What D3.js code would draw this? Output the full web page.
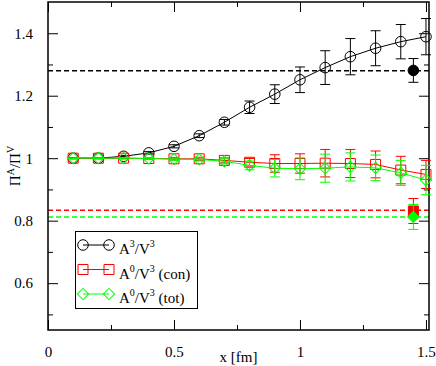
<!DOCTYPE html>
<html>
<head>
<meta charset="utf-8">
<script src="https://cdn.jsdelivr.net/npm/d3@7"></script>
<style>
  body { margin: 0; background: #fff; }
</style>
</head>
<body>
<div id="chart"></div>
<script>
// data
const xs = [0.1, 0.2, 0.3, 0.4, 0.5, 0.6, 0.7, 0.8, 0.9, 1.0, 1.1, 1.2, 1.3, 1.4, 1.5];
const a3 = [1.000, 1.000, 1.006, 1.017, 1.038, 1.072, 1.115, 1.163, 1.205, 1.251, 1.290, 1.325, 1.352, 1.373, 1.389];
const a3Err = [0.002, 0.002, 0.003, 0.004, 0.005, 0.006, 0.009, 0.020, 0.030, 0.041, 0.054, 0.058, 0.056, 0.055, 0.058];
const con = [1.000, 1.000, 1.000, 0.999, 0.998, 0.998, 0.993, 0.987, 0.983, 0.983, 0.984, 0.983, 0.980, 0.962, 0.948];
const conErr = [0.001, 0.001, 0.002, 0.003, 0.004, 0.005, 0.008, 0.012, 0.028, 0.031, 0.044, 0.045, 0.043, 0.044, 0.045];
const tot = [1.000, 1.000, 1.000, 0.999, 0.997, 0.996, 0.990, 0.977, 0.968, 0.966, 0.968, 0.972, 0.969, 0.953, 0.930];
const totErr = [0.001, 0.001, 0.002, 0.003, 0.004, 0.005, 0.008, 0.014, 0.028, 0.035, 0.045, 0.045, 0.041, 0.040, 0.047];

// continuum values (filled symbols) and their dashed reference lines
const contX = 1.45;
const contA3 = 1.281, contA3Err = 0.038;
const contCon = 0.831, contConErr = 0.04;
const contTot = 0.812, contTotErr = 0.04;
const refLines = [1.28, 0.833, 0.812];

const xTicks = [0, 0.5, 1, 1.5];
const xMinor = [0.25, 0.75, 1.25];
const yTicks = [0.6, 0.8, 1.0, 1.2, 1.4];
const yMinor = [0.5, 0.7, 0.9, 1.1, 1.3];

const legendLabels = [["A", "3", "/V", "3", ""], ["A", "0", "/V", "3", " (con)"], ["A", "0", "/V", "3", " (tot)"]];

// layout
const W = 436, H = 366;
const box = { left: 48, top: 2, right: 429, bottom: 330 };
const serif = "Liberation Serif";

let svg = d3.select('#chart').append('svg')
    .attr('width', W).attr('height', H)
    .attr('font-family', serif);

let x = d3.scaleLinear().domain([0, 1.512]).range([box.left, box.right]);
let y = d3.scaleLinear().domain([0.45, 1.5]).range([box.bottom, box.top]);

// dashed lines
const refColors = ['#000', '#ff0000', '#00ff00'];
svg.append('g').selectAll('line')
    .data(refLines)
    .join('line')
    .attr('x1', box.left).attr('x2', box.right)
    .attr('y1', d => y(d)).attr('y2', d => y(d))
    .attr('stroke', (d, i) => refColors[i])
    .attr('stroke-width', 1.5)
    .attr('stroke-dasharray', '5,3');

// axes: major and minor ticks, inward on all four sides
function styleAxis(g) {
    g.attr('font-family', serif).attr('font-size', 15);
    g.select('.domain').remove();
    g.selectAll('line').attr('stroke', '#000').attr('stroke-width', 1);
    g.selectAll('text').attr('fill', '#000');
}
const fmt = d => d3.format('')(+d.toFixed(2));

svg.append('g').attr('transform', `translate(0,${box.bottom})`)
    .call(d3.axisBottom(x).tickValues(xTicks).tickSizeInner(-10).tickSizeOuter(0).tickPadding(16).tickFormat(fmt))
    .call(styleAxis);
svg.append('g').attr('transform', `translate(0,${box.bottom})`)
    .call(d3.axisBottom(x).tickValues(xMinor).tickSize(-5).tickFormat(''))
    .call(styleAxis);
svg.append('g').attr('transform', `translate(0,${box.top})`)
    .call(d3.axisTop(x).tickValues(xTicks).tickSize(-10).tickFormat(''))
    .call(styleAxis);
svg.append('g').attr('transform', `translate(0,${box.top})`)
    .call(d3.axisTop(x).tickValues(xMinor).tickSize(-5).tickFormat(''))
    .call(styleAxis);

svg.append('g').attr('transform', `translate(${box.left},0)`)
    .call(d3.axisLeft(y).tickValues(yTicks).tickSizeInner(-10).tickSizeOuter(0).tickPadding(15).tickFormat(fmt))
    .call(styleAxis);
svg.append('g').attr('transform', `translate(${box.left},0)`)
    .call(d3.axisLeft(y).tickValues(yMinor).tickSize(-5).tickFormat(''))
    .call(styleAxis);
svg.append('g').attr('transform', `translate(${box.right},0)`)
    .call(d3.axisRight(y).tickValues(yTicks).tickSize(-10).tickFormat(''))
    .call(styleAxis);
svg.append('g').attr('transform', `translate(${box.right},0)`)
    .call(d3.axisRight(y).tickValues(yMinor).tickSize(-5).tickFormat(''))
    .call(styleAxis);

// frame
svg.append('rect')
    .attr('x', box.left).attr('y', box.top)
    .attr('width', box.right - box.left).attr('height', box.bottom - box.top)
    .attr('fill', 'none').attr('stroke', '#000').attr('stroke-width', 1.5);

// symbol shapes
const symbols = {
    circle: d3.symbol(d3.symbolCircle, 88),
    square: d3.symbol(d3.symbolSquare, 100),
    diamond: d3.symbol(d3.symbolSquare, 64)
};
function symbolPath(type) { return symbols[type](); }
function symbolRotate(type) { return type === 'diamond' ? ' rotate(45)' : ''; }

// one series: line, error bars, symbols
function drawSeries(vals, errs, color, type) {
    let pts = xs.map((d, i) => ({ x: d, y: vals[i], e: errs[i] }));
    let g = svg.append('g');

    g.append('path')
        .attr('d', d3.line().x(d => x(d.x)).y(d => y(d.y))(pts))
        .attr('fill', 'none').attr('stroke', color).attr('stroke-width', 1);

    drawErrors(g, pts, color);

    g.selectAll('path.sym')
        .data(pts)
        .join('path')
        .attr('class', 'sym')
        .attr('d', symbolPath(type))
        .attr('transform', d => `translate(${x(d.x)},${y(d.y)})` + symbolRotate(type))
        .attr('fill', 'none').attr('stroke', color).attr('stroke-width', 1);
}

function drawErrors(g, pts, color) {
    let eb = g.append('g').attr('stroke', color).attr('stroke-width', 1);
    pts.forEach(d => {
        eb.append('line')
            .attr('x1', x(d.x)).attr('x2', x(d.x))
            .attr('y1', y(d.y - d.e)).attr('y2', y(d.y + d.e));
        [d.y - d.e, d.y + d.e].forEach(v => {
            eb.append('line')
                .attr('x1', x(d.x) - 5).attr('x2', x(d.x) + 5)
                .attr('y1', y(v)).attr('y2', y(v));
        });
    });
}

drawSeries(a3, a3Err, '#000', 'circle');
drawSeries(con, conErr, '#ff0000', 'square');
drawSeries(tot, totErr, '#00ff00', 'diamond');

// filled continuum points
[[contA3, contA3Err, '#000', 'circle'],
 [contCon, contConErr, '#ff0000', 'square'],
 [contTot, contTotErr, '#00ff00', 'diamond']].forEach(([v, e, c, t]) => {
    let g = svg.append('g');
    drawErrors(g, [{ x: contX, y: v, e: e }], c);
    g.append('path')
        .attr('d', symbolPath(t))
        .attr('transform', `translate(${x(contX)},${y(v)})` + symbolRotate(t))
        .attr('fill', c).attr('stroke', c);
});

// axis titles
svg.append('text')
    .attr('x', (box.left + box.right) / 2).attr('y', 362)
    .attr('text-anchor', 'middle').attr('font-size', 15)
    .text('x [fm]');

let yl = svg.append('text')
    .attr('transform', `translate(20,${(box.top + box.bottom) / 2}) rotate(-90)`)
    .attr('text-anchor', 'middle').attr('font-size', 15);
yl.append('tspan').text('Π');
yl.append('tspan').attr('font-size', 10).attr('dy', -6).text('A');
yl.append('tspan').attr('dy', 6).text('/Π');
yl.append('tspan').attr('font-size', 10).attr('dy', -6).text('V');

// legend
const legendSeries = [['#000', 'circle'], ['#ff0000', 'square'], ['#00ff00', 'diamond']];
let leg = svg.append('g');
leg.append('rect')
    .attr('x', 75.5).attr('y', 231.5).attr('width', 122).attr('height', 77)
    .attr('fill', '#fff').attr('stroke', '#000').attr('stroke-width', 1);
legendSeries.forEach(([c, t], i) => {
    let cy = 245 + i * 24.5;
    leg.append('line')
        .attr('x1', 83).attr('x2', 109).attr('y1', cy).attr('y2', cy)
        .attr('stroke', c).attr('stroke-width', 1);
    [83, 109].forEach(px => {
        leg.append('path')
            .attr('d', symbolPath(t))
            .attr('transform', `translate(${px},${cy})` + symbolRotate(t))
            .attr('fill', 'none').attr('stroke', c).attr('stroke-width', 1);
    });
    let lab = legendLabels[i];
    let tx = leg.append('text').attr('x', 119).attr('y', cy + 9).attr('font-size', 15);
    tx.append('tspan').text(lab[0]);
    tx.append('tspan').attr('font-size', 10).attr('dy', -7).text(lab[1]);
    tx.append('tspan').attr('dy', 7).text(lab[2]);
    tx.append('tspan').attr('font-size', 10).attr('dy', -7).text(lab[3]);
    tx.append('tspan').attr('dy', 7).text(lab[4]);
});
</script>
</body>
</html>
